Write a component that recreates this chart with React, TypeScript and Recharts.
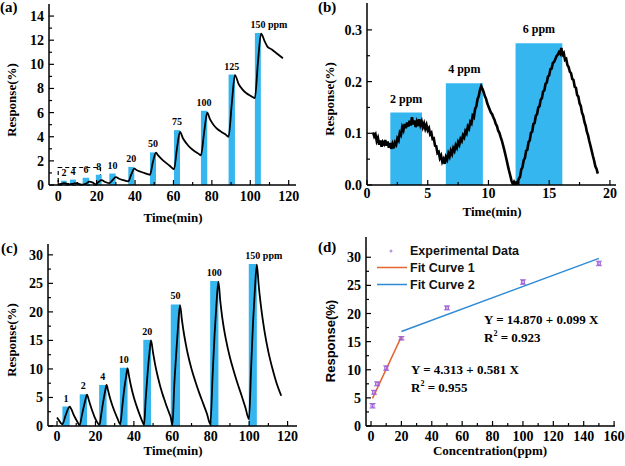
import React from "react";
import {
  ComposedChart,
  Line,
  Scatter,
  ErrorBar,
  XAxis,
  YAxis,
  ReferenceArea,
  Legend,
} from "recharts";

const SERIF = "'Liberation Serif', 'Times New Roman', serif";
const SANS = "'Liberation Sans', Arial, sans-serif";
const CYAN = "#35b6ef";
const INK = "#000";
const PURPLE = "#a064d8";
const ORANGE = "#e2652d";
const SKY = "#2f8ad6";
const AXIS = { stroke: INK, strokeWidth: 1.5 };

// (a) response to 2-150 ppm
const aConc = [2, 4, 6, 8, 10, 20, 50, 75, 100, 125, 150];
const aOn = [1.5, 6.1, 12.7, 19.6, 26.6, 36.5, 47.8, 60.3, 74.3, 88.7, 102.4];
const aOff = [4.4, 9.2, 16.1, 22.6, 29.9, 39.6, 50.9, 63.4, 77.6, 92.0, 105.5];
const aPeak = [0.35, 0.45, 0.6, 0.85, 0.95, 1.5, 2.7, 4.55, 6.15, 9.15, 12.6];
const aTime = [
  0, 1.5, 3, 4.5, 6, 8, 9.5, 11, 13, 14.5, 16.2, 18, 19.6, 21, 22.6, 24.5, 26.6, 28, 30, 32, 34, 36.5,
  38, 39.6, 41, 43, 45, 47.8, 49.3, 50.9, 52, 54, 56, 58, 60.3, 61.8, 63.4, 65, 67, 69, 71, 73, 74.3,
  76, 77.6, 79, 81, 83, 85, 87, 88.7, 90.4, 92.0, 94, 96, 98, 100, 102.4, 104, 105.6, 107.5, 109, 111,
  113, 115, 117,
];
const aResp = [
  0.05, 0.1, 0.15, 0.12, 0.05, 0.12, 0.15, 0.08, 0.03, 0.12, 0.28, 0.2, 0.06, 0.25, 0.4, 0.25, 0.15,
  0.35, 0.65, 0.5, 0.4, 0.3, 0.85, 1.35, 1.22, 1.1, 0.98, 0.85, 1.9, 2.68, 2.45, 2.12, 1.85, 1.6, 1.3,
  3.0, 4.4, 3.85, 3.4, 3.05, 2.8, 2.6, 2.45, 4.4, 6.0, 5.45, 4.95, 4.62, 4.4, 4.2, 4.0, 6.8, 9.1, 8.35,
  7.9, 7.6, 7.4, 7.2, 10.2, 12.55, 11.9, 11.45, 11.25, 11.0, 10.75, 10.5,
];

// (b) low concentrations, sampled every 0.1 min from 0.5 min
const bConc = [2, 4, 6];
const bOn = [1.92, 6.49, 12.23];
const bOff = [4.53, 9.54, 16.08];
const bPeak = [0.14, 0.197, 0.274];
const bStart = 0.5;
const bStep = 0.1;
const bResp = [
  0.102, 0.094, 0.098, 0.085, 0.091, 0.078, 0.086, 0.074, 0.083, 0.079,
  0.087, 0.076, 0.084, 0.072, 0.081, 0.07, 0.079, 0.071, 0.082, 0.078,
  0.09, 0.086, 0.101, 0.097, 0.112, 0.106, 0.118, 0.11, 0.121, 0.113,
  0.124, 0.115, 0.131, 0.117, 0.125, 0.112, 0.122, 0.114, 0.127, 0.116,
  0.123, 0.112, 0.119, 0.109, 0.116, 0.106, 0.11, 0.098, 0.101, 0.089,
  0.09, 0.076, 0.075, 0.062, 0.064, 0.052, 0.057, 0.045, 0.05, 0.041,
  0.054, 0.049, 0.061, 0.055, 0.066, 0.06, 0.071, 0.066, 0.077, 0.072,
  0.083, 0.078, 0.089, 0.085, 0.096, 0.092, 0.104, 0.1, 0.113, 0.109,
  0.122, 0.119, 0.134, 0.131, 0.147, 0.152, 0.166, 0.172, 0.184, 0.191,
  0.186, 0.18, 0.172, 0.167, 0.158, 0.152, 0.146, 0.14, 0.137, 0.131,
  0.126, 0.118, 0.114, 0.105, 0.101, 0.093, 0.086, 0.077, 0.068, 0.058,
  0.048, 0.037, 0.027, 0.018, 0.008, 0.002, 0.006, 0.001, 0.005, 0.003,
  0.012, 0.016, 0.03, 0.034, 0.048, 0.052, 0.066, 0.068, 0.083, 0.086,
  0.101, 0.103, 0.118, 0.12, 0.134, 0.137, 0.15, 0.152, 0.165, 0.168,
  0.181, 0.183, 0.196, 0.198, 0.21, 0.212, 0.224, 0.225, 0.236, 0.238,
  0.243, 0.249, 0.252, 0.257, 0.254, 0.265, 0.252, 0.255, 0.242, 0.244,
  0.232, 0.228, 0.219, 0.216, 0.205, 0.203, 0.19, 0.188, 0.174, 0.171,
  0.158, 0.153, 0.14, 0.134, 0.122, 0.115, 0.103, 0.096, 0.085, 0.076,
  0.066, 0.056, 0.047, 0.036, 0.031, 0.022,
];

// (c) 1-150 ppm, full recovery
const cConc = [1, 2, 4, 10, 20, 50, 100, 150];
const cOn = [2.8, 11.8, 21.9, 32.7, 44.9, 59.2, 79.7, 99.8];
const cOff = [6.6, 15.6, 25.8, 36.7, 48.9, 64.0, 84.0, 104.0];
const cPeak = [3.4, 5.55, 7.2, 10.2, 15.1, 21.3, 25.4, 28.4];
const cTime = [
  0, 1, 2, 2.8, 4.5, 6.6, 7.5, 8.5, 9.5, 10.5, 11.8, 13, 14.5, 15.6, 16.5, 17.5, 18.5, 19.5, 20.5, 22.1,
  23, 24, 25, 25.8, 26.5, 27.5, 28.5, 30, 31.5, 32.9, 34, 35, 36, 36.7, 37.5, 38.5, 40, 41.5, 43, 44.4,
  45.3, 46.2, 47.2, 48.1, 48.9, 50, 51, 52, 53, 54, 55, 56, 57, 58, 59.2, 60.1, 61, 62, 63, 64, 65, 66,
  67, 68, 70, 72, 74, 76, 78, 79.8, 81, 82, 83, 84, 85, 86, 87, 88, 90, 92, 94, 96, 98, 99.9, 101, 102,
  103, 104, 105, 106, 107, 108, 110, 112, 114, 116.7,
];
const cResp = [
  1.5, 1.0, 0.5, 0.3, 1.9, 3.4, 2.9, 2.1, 1.4, 0.8, 0.15, 2.0, 4.2, 5.5, 4.6, 3.5, 2.5, 1.6, 0.9, 0.2,
  2.0, 4.2, 6.0, 7.2, 6.3, 5.0, 3.9, 2.5, 1.3, 0.3, 3.5, 6.5, 8.8, 10.1, 8.7, 7.0, 5.0, 3.4, 2.0, 0.8,
  0.2, 5.0, 9.5, 12.8, 15.0, 12.8, 10.9, 9.3, 7.9, 6.6, 5.5, 4.5, 3.5, 2.6, 1.5, 0.2, 7.0, 12.5, 17.5,
  21.2, 18.6, 16.3, 14.4, 12.7, 10.0, 7.8, 5.8, 4.0, 2.2, 0.3, 9.0, 16.0, 21.5, 25.3, 21.8, 19.0, 16.8,
  15.0, 12.0, 9.6, 7.4, 5.4, 3.3, 1.2, 10.0, 18.0, 24.0, 28.3, 24.5, 21.4, 18.8, 16.6, 13.0, 10.2, 7.8,
  5.3,
];

// (d) calibration
const dConc = [1, 2, 4, 10, 20, 50, 100, 150];
const dResp = [3.6, 6.0, 7.5, 10.3, 15.6, 21.0, 25.6, 28.9];
const dErr = [0.4, 0.35, 0.35, 0.4, 0.3, 0.35, 0.4, 0.4];
const fit1X = [1, 20];
const fit1Y = [4.9, 15.9];
const fit2X = [20, 150];
const fit2Y = [16.8, 29.8];

const aData = aTime.map((t, i) => ({ t, r: aResp[i] }));
const bData = bResp.map((r, i) => ({ t: +(bStart + i * bStep).toFixed(2), r }));
const cData = cTime.map((t, i) => ({ t, r: cResp[i] }));
const dData = dConc.map((x, i) => ({ x, y: dResp[i], err: dErr[i] }));
const fit1 = fit1X.map((x, i) => ({ x, y: fit1Y[i] }));
const fit2 = fit2X.map((x, i) => ({ x, y: fit2Y[i] }));

const range = (a: number, b: number, s: number) => {
  const out: number[] = [];
  for (let v = a; v <= b + 1e-9; v += s) out.push(+v.toFixed(4));
  return out;
};
const isMajor = (majors: number[], v: number) => majors.some((m) => Math.abs(m - v) < 1e-6);

const tickText = {
  fontFamily: SERIF,
  fontWeight: "bold" as const,
  fontSize: 14,
  fill: INK,
};

const xTick = (majors: number[], dy: number, fmt = (v: number) => String(v)) => (p: any) => {
  const v = p.payload.value;
  const major = isMajor(majors, v);
  return (
    <g>
      <line x1={p.x} y1={p.y} x2={p.x} y2={p.y - (major ? 5 : 3)} stroke={INK} strokeWidth={1.2} />
      {major && (
        <text x={p.x} y={p.y + dy} textAnchor="middle" {...tickText}>
          {fmt(v)}
        </text>
      )}
    </g>
  );
};

const yTick = (majors: number[], fmt = (v: number) => String(v)) => (p: any) => {
  const v = p.payload.value;
  const major = isMajor(majors, v);
  return (
    <g>
      <line x1={p.x} y1={p.y} x2={p.x + (major ? 5 : 3)} y2={p.y} stroke={INK} strokeWidth={1.2} />
      {major && (
        <text x={p.x - 5} y={p.y + 5} textAnchor="end" {...tickText}>
          {fmt(v)}
        </text>
      )}
    </g>
  );
};

function frame(xd: number[], yd: number[]) {
  return [
    <XAxis key="ft" xAxisId="top" orientation="top" type="number" domain={xd} allowDataOverflow height={0} tick={false} tickLine={false} axisLine={AXIS} />,
    <YAxis key="fr" yAxisId="right" orientation="right" type="number" domain={yd} allowDataOverflow width={0} tick={false} tickLine={false} axisLine={AXIS} />,
  ];
}

// concentration tag over an exposure bar; with "ppm" the number stays centred
function tag(text: string, size: number, offset: number, centreNumber: boolean) {
  const parts = text.split(" ");
  const suffix = parts.length > 1 ? 2.2 * size : 0;
  return {
    value: text,
    position: "top" as const,
    offset,
    dx: centreNumber ? suffix / 2 : 0,
    fill: INK,
    fontSize: size,
    fontWeight: "bold",
    fontFamily: SERIF,
  };
}

function PanelA() {
  const xd = [-4.8, 123.8];
  const yd = [0, 15];
  return (
    <ComposedChart width={312} height={233} margin={{ top: 4, right: 16, bottom: 0, left: 0 }}>
      <XAxis type="number" dataKey="t" domain={xd} allowDataOverflow ticks={range(0, 120, 10)} interval={0} tickSize={0} tickMargin={0} tickLine={false} tick={xTick(range(0, 120, 20), 16)} height={48} axisLine={AXIS} />
      <YAxis type="number" domain={yd} allowDataOverflow ticks={range(0, 14, 1)} interval={0} tickSize={0} tickMargin={0} tickLine={false} tick={yTick(range(0, 14, 2))} width={49} axisLine={AXIS} />
      {frame(xd, yd)}
      <ReferenceArea x1={0} x2={22} y1={0} y2={1.45} fill="none" stroke={INK} strokeWidth={1.2} strokeDasharray="4 3" />
      {aConc.map((c, i) => (
        <ReferenceArea
          key={i}
          x1={aOn[i]}
          x2={aOff[i]}
          y1={0}
          y2={aPeak[i]}
          fill={CYAN}
          fillOpacity={1}
          stroke="none"
          label={tag(i === aConc.length - 1 ? `${c} ppm` : String(c), 10, 5, true)}
        />
      ))}
      <Line data={aData} dataKey="r" type="monotone" stroke={INK} strokeWidth={1.8} dot={false} isAnimationActive={false} />
    </ComposedChart>
  );
}

function PanelB() {
  const xd = [0, 20.5];
  const yd = [0, 0.352];
  return (
    <ComposedChart width={313} height={233} margin={{ top: 3, right: 9, bottom: 0, left: 0 }}>
      <XAxis type="number" dataKey="t" domain={xd} allowDataOverflow ticks={range(0, 20, 2.5)} interval={0} tickSize={0} tickMargin={0} tickLine={false} tick={xTick(range(0, 20, 5), 13)} height={48} axisLine={AXIS} />
      <YAxis type="number" domain={yd} allowDataOverflow ticks={range(0, 0.3, 0.05)} interval={0} tickSize={0} tickMargin={0} tickLine={false} tick={yTick([0, 0.1, 0.2, 0.3], (v) => v.toFixed(1))} width={55} axisLine={AXIS} />
      {frame(xd, yd)}
      {bConc.map((c, i) => (
        <ReferenceArea key={i} x1={bOn[i]} x2={bOff[i]} y1={0} y2={bPeak[i]} fill={CYAN} fillOpacity={1} stroke="none" label={tag(`${c} ppm`, 12, 10, false)} />
      ))}
      <Line data={bData} dataKey="r" type="linear" stroke={INK} strokeWidth={2.6} strokeLinejoin="miter" dot={false} isAnimationActive={false} />
    </ComposedChart>
  );
}

function PanelC() {
  const xd = [-4.7, 124.9];
  const yd = [0, 31.9];
  return (
    <ComposedChart width={312} height={233} margin={{ top: 11, right: 15, bottom: 0, left: 0 }}>
      <XAxis type="number" dataKey="t" domain={xd} allowDataOverflow ticks={range(0, 120, 10)} interval={0} tickSize={0} tickMargin={0} tickLine={false} tick={xTick(range(0, 120, 20), 15)} height={40} axisLine={AXIS} />
      <YAxis type="number" domain={yd} allowDataOverflow ticks={range(0, 30, 2.5)} interval={0} tickSize={0} tickMargin={0} tickLine={false} tick={yTick(range(0, 30, 5))} width={48} axisLine={AXIS} />
      {frame(xd, yd)}
      {cConc.map((c, i) => (
        <ReferenceArea
          key={i}
          x1={cOn[i]}
          x2={cOff[i]}
          y1={0}
          y2={cPeak[i]}
          fill={CYAN}
          fillOpacity={1}
          stroke="none"
          label={tag(i === cConc.length - 1 ? `${c} ppm` : String(c), 10, 5, true)}
        />
      ))}
      <Line data={cData} dataKey="r" type="monotone" stroke={INK} strokeWidth={1.8} dot={false} isAnimationActive={false} />
    </ComposedChart>
  );
}

function DLegend() {
  const txt = { fontFamily: SANS, fontWeight: "bold" as const, fontSize: 12.5, fill: "#111" };
  return (
    <svg width={200} height={56}>
      <circle cx={17} cy={10} r={1.5} fill="#b59ad8" />
      <text x={36} y={14} {...txt}>Experimental Data</text>
      <line x1={3} y1={26.5} x2={33} y2={26.5} stroke={ORANGE} strokeWidth={1.5} />
      <text x={36} y={31} {...txt}>Fit Curve 1</text>
      <line x1={3} y1={43.5} x2={33} y2={43.5} stroke={SKY} strokeWidth={1.5} />
      <text x={36} y={48} {...txt}>Fit Curve 2</text>
    </svg>
  );
}

function PanelD() {
  const xd = [-3.3, 160.6];
  const yd = [0, 33.6];
  return (
    <ComposedChart width={313} height={233} margin={{ top: 4, right: 10, bottom: 0, left: 0 }}>
      <XAxis type="number" dataKey="x" domain={xd} allowDataOverflow ticks={range(0, 160, 10)} interval={0} tickSize={0} tickMargin={0} tickLine={false} tick={xTick(range(0, 160, 20), 15)} height={40} axisLine={AXIS} />
      <YAxis type="number" domain={yd} allowDataOverflow ticks={range(0, 30, 2.5)} interval={0} tickSize={0} tickMargin={0} tickLine={false} tick={yTick(range(0, 30, 5))} width={54} axisLine={AXIS} />
      {frame(xd, yd)}
      <Legend
        layout="vertical"
        align="center"
        verticalAlign="middle"
        wrapperStyle={{ left: 62, top: 8, width: 200, height: 56 }}
        content={() => <DLegend />}
      />
      <Line data={fit1} dataKey="y" name="Fit Curve 1" type="linear" stroke={ORANGE} strokeWidth={1.5} dot={false} isAnimationActive={false} />
      <Line data={fit2} dataKey="y" name="Fit Curve 2" type="linear" stroke={SKY} strokeWidth={1.5} dot={false} isAnimationActive={false} />
      <Scatter
        data={dData}
        dataKey="y"
        name="Experimental Data"
        fill="none"
        isAnimationActive={false}
        shape={(p: any) => (
          <rect x={p.cx - 1.5} y={p.cy - 1.5} width={3} height={3} fill="none" stroke={PURPLE} strokeWidth={1} />
        )}
      >
        <ErrorBar dataKey="err" direction="y" width={3} stroke={PURPLE} strokeWidth={1} isAnimationActive={false} />
      </Scatter>
    </ComposedChart>
  );
}

const titleFont = { fontFamily: SERIF, fontWeight: "bold" as const, fontSize: 13, fill: INK };

function YTitle({ x, y, text, font = SERIF }: { x: number; y: number; text: string; font?: string }) {
  return (
    <text transform={`translate(${x},${y}) rotate(-90)`} textAnchor="middle" dominantBaseline="central" {...titleFont} fontFamily={font}>
      {text}
    </text>
  );
}

function Overlay() {
  const panel = { fontFamily: SERIF, fontWeight: "bold" as const, fontSize: 15, fill: INK };
  const note = { fontFamily: SERIF, fontWeight: "bold" as const, fontSize: 13, fill: INK };
  return (
    <svg width={625} height={466} style={{ position: "absolute", left: 0, top: 0, pointerEvents: "none" }}>
      <text x={0} y={12} {...panel}>(a)</text>
      <text x={318} y={12} {...panel}>(b)</text>
      <text x={1} y={253} {...panel}>(c)</text>
      <text x={318} y={252} {...panel}>(d)</text>

      <YTitle x={11} y={100} text="Response(%)" />
      <YTitle x={329} y={99} text="Response(%)" />
      <YTitle x={11} y={340} text="Response(%)" />
      <YTitle x={330} y={341} text="Response(%)" font={SANS} />

      <text x={173} y={222} textAnchor="middle" {...titleFont}>Time(min)</text>
      <text x={492} y={216} textAnchor="middle" {...titleFont}>Time(min)</text>
      <text x={173} y={455} textAnchor="middle" {...titleFont}>Time(min)</text>
      <text x={490} y={455} textAnchor="middle" {...titleFont}>Concentration(ppm)</text>

      <text x={484} y={324} {...note}>Y = 14.870 + 0.099 X</text>
      <text x={484} y={342} {...note}>
        R<tspan fontSize={8} dy={-6}>2</tspan>
        <tspan dy={6}> = 0.923</tspan>
      </text>
      <text x={411} y={374} {...note}>Y = 4.313 + 0.581 X</text>
      <text x={411} y={392} {...note}>
        R<tspan fontSize={8} dy={-6}>2</tspan>
        <tspan dy={6}> = 0.955</tspan>
      </text>
    </svg>
  );
}

export default function App() {
  return (
    <div style={{ position: "absolute", left: 0, top: 0, width: 625, height: 466, background: "#fff" }}>
      <div style={{ position: "absolute", left: 0, top: 0 }}>
        <PanelA />
      </div>
      <div style={{ position: "absolute", left: 312, top: 0 }}>
        <PanelB />
      </div>
      <div style={{ position: "absolute", left: 0, top: 233 }}>
        <PanelC />
      </div>
      <div style={{ position: "absolute", left: 312, top: 233 }}>
        <PanelD />
      </div>
      <Overlay />
    </div>
  );
}
